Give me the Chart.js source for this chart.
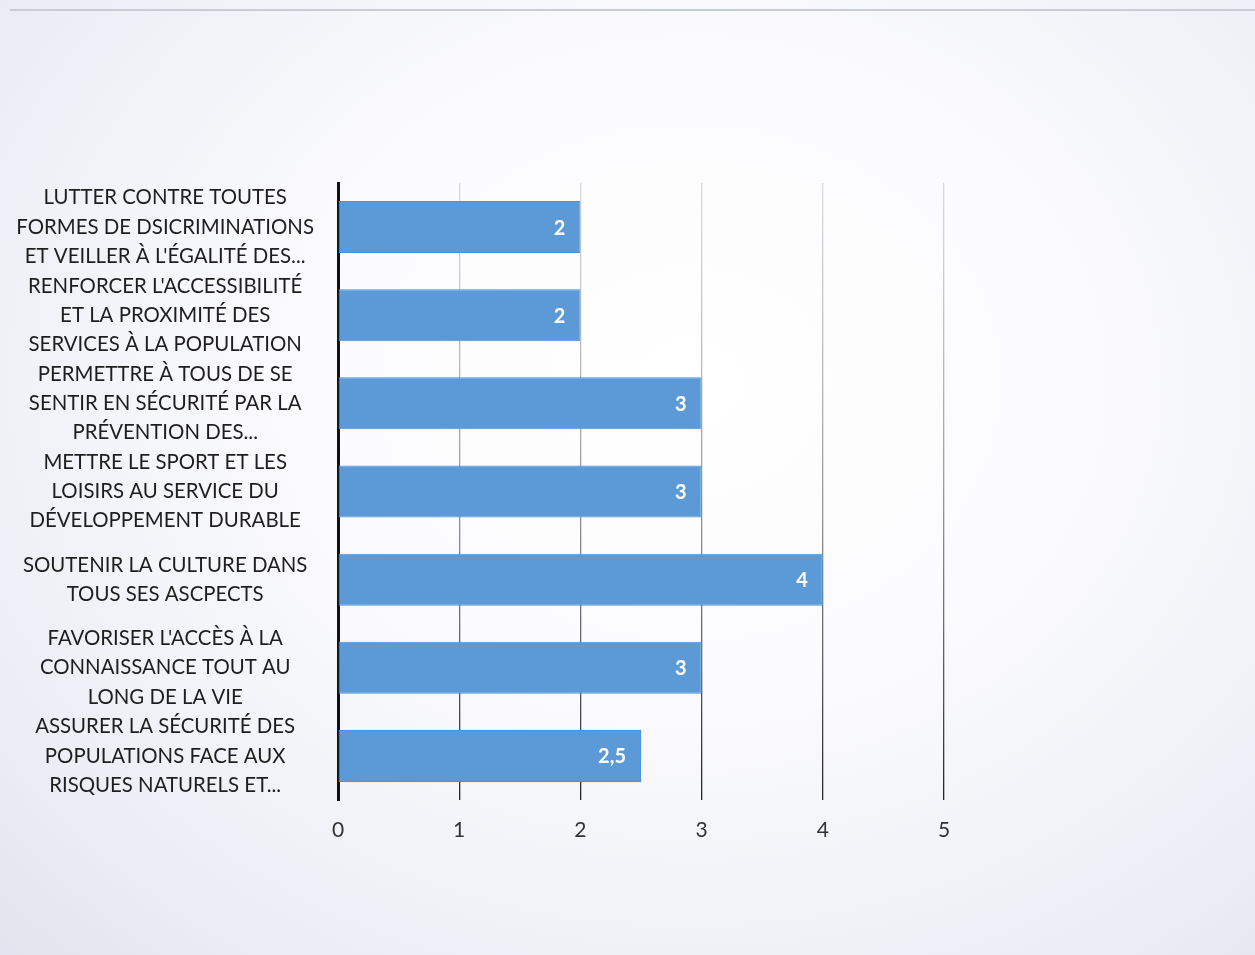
<!DOCTYPE html>
<html lang="fr">
  <head>
    <meta charset="UTF-8" />
    <title>Axes prioritaires</title>
    <style>
      html,
      body {
        margin: 0;
        padding: 0;
      }
      body {
        width: 1255px;
        height: 955px;
        overflow: hidden;
        background: radial-gradient(
          ellipse at 55% 40%,
          #ffffff 0%,
          #fbfbfd 40%,
          #eceef5 80%,
          #e1e4ee 100%
        );
      }
      .edge {
        position: absolute;
        left: 10px;
        right: 0;
        top: 9px;
        border-top: 2px solid #c9ccd4;
      }
      #chart {
        position: absolute;
        left: 0;
        top: 0;
      }
    </style>
  </head>
  <body>
    <div class="edge"></div>
    <canvas id="chart" width="1255" height="955"></canvas>
    <script src="https://cdn.jsdelivr.net/npm/chart.js"></script>
    <script>
      // catégories (lignes de texte telles qu'affichées)
      var categories = [
        ["LUTTER CONTRE TOUTES", "FORMES DE DSICRIMINATIONS", "ET VEILLER À L'ÉGALITÉ DES..."],
        ["RENFORCER L'ACCESSIBILITÉ", "ET LA PROXIMITÉ DES", "SERVICES À LA POPULATION"],
        ["PERMETTRE À TOUS DE SE", "SENTIR EN SÉCURITÉ PAR LA", "PRÉVENTION DES..."],
        ["METTRE LE SPORT ET LES", "LOISIRS AU SERVICE DU", "DÉVELOPPEMENT DURABLE"],
        ["SOUTENIR LA CULTURE DANS", "TOUS SES ASCPECTS"],
        ["FAVORISER L'ACCÈS À LA", "CONNAISSANCE TOUT AU", "LONG DE LA VIE"],
        ["ASSURER LA SÉCURITÉ DES", "POPULATIONS FACE AUX", "RISQUES NATURELS ET..."],
      ];
      var values = [2, 2, 3, 3, 4, 3, 2.5];
      var xTicks = [0, 1, 2, 3, 4, 5];

      var font = "Lato, 'Open Sans', sans-serif";

      // étiquettes de valeur à l'intérieur des barres
      var valueLabels = {
        id: "valueLabels",
        afterDatasetsDraw: function (chart) {
          var ctx = chart.ctx;
          var meta = chart.getDatasetMeta(0);
          ctx.save();
          ctx.fillStyle = "#ffffff";
          ctx.font = "bold 20px " + font;
          ctx.textAlign = "right";
          ctx.textBaseline = "middle";
          meta.data.forEach(function (bar, i) {
            var txt = String(values[i]).replace(".", ",");
            ctx.fillText(txt, bar.x - 15, bar.y + 1);
          });
          ctx.restore();
        },
      };

      var ctx = document.getElementById("chart").getContext("2d");
      var chart = new Chart(ctx, {
        type: "bar",
        data: {
          labels: categories,
          datasets: [
            {
              data: values,
              backgroundColor: "#5b9ad6",
              borderColor: "#4793e0",
              borderWidth: 1,
              borderSkipped: false,
              categoryPercentage: 1,
              barPercentage: 0.59,
            },
          ],
        },
        options: {
          indexAxis: "y",
          responsive: false,
          animation: false,
          events: [],
          layout: {
            padding: { left: 0, right: 311, top: 183, bottom: 0 },
          },
          plugins: {
            legend: { display: false },
            tooltip: { enabled: false },
          },
          scales: {
            x: {
              min: 0,
              max: 5,
              afterBuildTicks: function (scale) {
                scale.ticks = xTicks.map(function (v) {
                  return { value: v };
                });
              },
              afterFit: function (scale) {
                scale.height = 155;
              },
              grid: {
                drawTicks: false,
                lineWidth: 1.3,
                color: function (c) {
                  var area = c.chart.chartArea;
                  if (!area) return "#888";
                  var g = c.chart.ctx.createLinearGradient(0, area.top, 0, area.bottom);
                  g.addColorStop(0, "rgba(175,178,185,0.45)");
                  g.addColorStop(0.5, "rgba(110,110,115,0.7)");
                  g.addColorStop(1, "rgba(25,25,25,0.95)");
                  return g;
                },
              },
              border: { display: false },
              ticks: {
                padding: 18,
                color: "#333333",
                font: { family: font, size: 21 },
              },
            },
            y: {
              z: 1,
              afterFit: function (scale) {
                scale.width = 338;
              },
              grid: { display: false, drawTicks: false },
              border: { display: true, color: "#111111", width: 3 },
              ticks: {
                autoSkip: false,
                crossAlign: "center",
                padding: 24,
                color: "#1e1e1e",
                font: { family: font, size: 20.4, lineHeight: 1.43 },
              },
            },
          },
        },
        plugins: [valueLabels],
      });
    </script>
  </body>
</html>
